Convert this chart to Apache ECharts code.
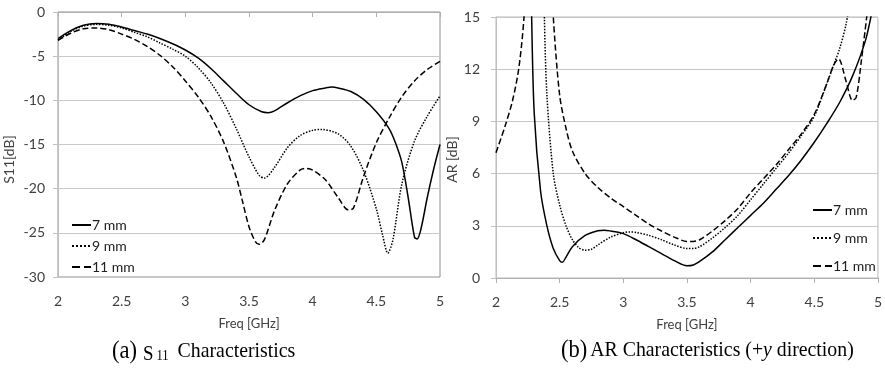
<!DOCTYPE html>
<html>
<head>
<meta charset="utf-8">
<script src="https://cdn.jsdelivr.net/npm/echarts@6/dist/echarts.min.js"></script>
<style>
  html, body { margin: 0; padding: 0; background: #fff; }
  #chart { width: 885px; height: 371px; }
</style>
</head>
<body>
<div id="chart"></div>
<script>
// (a) S11 [dB] vs frequency [GHz]
const s11_7mm = [
  [2.0, -3.0], [2.1, -2.1], [2.2, -1.5], [2.3, -1.3], [2.4, -1.4], [2.5, -1.7], [2.6, -2.1],
  [2.7, -2.5], [2.8, -3.0], [2.9, -3.6], [3.0, -4.3], [3.1, -5.2], [3.2, -6.4], [3.3, -7.8],
  [3.4, -9.2], [3.5, -10.5], [3.6, -11.3], [3.65, -11.4], [3.7, -11.2], [3.8, -10.3],
  [3.9, -9.5], [4.0, -8.9], [4.1, -8.6], [4.15, -8.5], [4.2, -8.6], [4.3, -9.0], [4.4, -9.9],
  [4.5, -11.3], [4.6, -13.2], [4.65, -14.8], [4.7, -17.0], [4.75, -21.0], [4.8, -25.5],
  [4.82, -25.7], [4.85, -24.6], [4.9, -21.0], [4.95, -17.8], [5.0, -15.0]
];
const s11_9mm = [
  [2.0, -3.2], [2.1, -2.2], [2.2, -1.6], [2.3, -1.4], [2.4, -1.5], [2.5, -1.8], [2.6, -2.3],
  [2.7, -2.8], [2.8, -3.5], [2.9, -4.2], [3.0, -5.0], [3.1, -6.3], [3.2, -8.0], [3.3, -10.3],
  [3.4, -13.2], [3.5, -16.4], [3.58, -18.5], [3.62, -18.8], [3.7, -17.6], [3.8, -15.4],
  [3.9, -14.0], [4.0, -13.4], [4.07, -13.3], [4.2, -13.8], [4.3, -15.2], [4.4, -18.0],
  [4.5, -22.3], [4.55, -25.3], [4.59, -27.3], [4.63, -25.8], [4.7, -19.5], [4.8, -14.6],
  [4.9, -11.8], [5.0, -9.5]
];
const s11_11mm = [
  [2.0, -3.2], [2.1, -2.4], [2.2, -1.9], [2.3, -1.8], [2.4, -2.0], [2.5, -2.5], [2.6, -3.1],
  [2.7, -3.9], [2.8, -4.9], [2.9, -6.2], [3.0, -7.8], [3.1, -9.6], [3.2, -11.8], [3.3, -14.7],
  [3.4, -18.7], [3.45, -21.5], [3.5, -24.3], [3.55, -26.0], [3.58, -26.3], [3.62, -25.8],
  [3.7, -22.5], [3.8, -19.5], [3.9, -17.9], [3.95, -17.7], [4.0, -17.9], [4.1, -19.0],
  [4.2, -21.0], [4.28, -22.4], [4.32, -22.2], [4.4, -18.6], [4.5, -14.8], [4.6, -12.0],
  [4.7, -9.6], [4.8, -7.8], [4.9, -6.5], [5.0, -5.6]
];

// (b) AR [dB] vs frequency [GHz] (values above 15 are cut off by the axis)
const ar_7mm = [
  [2.265, 22], [2.28, 15], [2.3, 9.5], [2.35, 5.0], [2.4, 3.0], [2.45, 1.7], [2.5, 1.0],
  [2.52, 0.9], [2.55, 1.2], [2.6, 1.8], [2.7, 2.45], [2.8, 2.72], [2.85, 2.75], [2.9, 2.7],
  [3.0, 2.55], [3.1, 2.2], [3.2, 1.8], [3.3, 1.4], [3.4, 1.0], [3.5, 0.7], [3.55, 0.75],
  [3.6, 0.95], [3.7, 1.5], [3.8, 2.2], [3.9, 2.9], [4.0, 3.6], [4.1, 4.3], [4.2, 5.1],
  [4.3, 5.9], [4.4, 6.8], [4.5, 7.8], [4.6, 8.9], [4.7, 10.1], [4.8, 11.6], [4.9, 13.6],
  [4.95, 15.2]
];
const ar_9mm = [
  [2.37, 20], [2.38, 15], [2.4, 10.5], [2.45, 6.0], [2.5, 4.2], [2.55, 3.0], [2.6, 2.2],
  [2.65, 1.75], [2.7, 1.6], [2.75, 1.65], [2.8, 1.9], [2.9, 2.35], [3.0, 2.6], [3.05, 2.65],
  [3.1, 2.62], [3.2, 2.45], [3.3, 2.2], [3.4, 1.9], [3.5, 1.7], [3.55, 1.7], [3.6, 1.8],
  [3.7, 2.3], [3.8, 2.9], [3.9, 3.6], [4.0, 4.5], [4.1, 5.4], [4.2, 6.3], [4.3, 7.2],
  [4.4, 8.2], [4.5, 9.3], [4.6, 11.2], [4.65, 12.2], [4.7, 13.2], [4.75, 14.6], [4.78, 16.0]
];
const ar_11mm = [
  [2.0, 7.2], [2.07, 8.7], [2.13, 10.2], [2.18, 12.1], [2.22, 15.0], [2.235, 18],
  [2.435, 18], [2.45, 15], [2.5, 10.5], [2.55, 8.6], [2.6, 7.3], [2.7, 6.0], [2.8, 5.2],
  [2.9, 4.6], [3.0, 4.1], [3.1, 3.6], [3.2, 3.1], [3.3, 2.7], [3.4, 2.35], [3.5, 2.1],
  [3.55, 2.1], [3.6, 2.2], [3.7, 2.7], [3.8, 3.3], [3.9, 4.0], [4.0, 4.9], [4.1, 5.7],
  [4.2, 6.5], [4.3, 7.4], [4.4, 8.3], [4.5, 9.4], [4.6, 11.2], [4.65, 12.2], [4.69, 12.6],
  [4.75, 11.3], [4.8, 10.2], [4.83, 10.4], [4.87, 12.5], [4.92, 15.5]
];

const legendNames = ['7 mm', '9 mm', '11 mm'];
const lineTypes = ['solid', 'dotted', 'dashed'];

const font = 'Lato, "Open Sans", sans-serif';
const serif = '"Liberation Serif", "DejaVu Serif", serif';
const axisText = { color: '#404040', fontSize: 14, fontFamily: font };

function xAxisFor(gridIndex) {
  return {
    type: 'value', gridIndex, min: 2, max: 5, interval: 0.5,
    name: 'Freq [GHz]', nameLocation: 'middle', nameGap: 40,
    nameTextStyle: { color: '#404040', fontSize: 13, fontFamily: font },
    axisLine: { lineStyle: { color: '#b0b0b0' } },
    axisTick: { show: true, length: 5, lineStyle: { color: '#b0b0b0' } },
    axisLabel: Object.assign({ margin: 17 }, axisText),
    splitLine: { show: false }
  };
}

function yAxisFor(gridIndex, name, min, max, interval, labelMargin, nameGap, shift) {
  return {
    type: 'value', gridIndex, min, max, interval,
    name, nameLocation: 'middle', nameGap,
    nameTextStyle: { color: '#404040', fontSize: 14, fontFamily: font, padding: [0, shift, 0, 0] },
    axisLine: { show: true, lineStyle: { color: '#c0c0c0' } },
    axisTick: { show: true, length: 5, lineStyle: { color: '#c0c0c0' } },
    axisLabel: Object.assign({ margin: labelMargin }, axisText),
    splitLine: { lineStyle: { color: '#c8c8c8' } }
  };
}

function seriesFor(data, i, axisIndex) {
  return {
    name: legendNames[i], type: 'line', data: data[i],
    xAxisIndex: axisIndex, yAxisIndex: axisIndex,
    smooth: 0.3, symbol: 'none', clip: true,
    lineStyle: { color: '#000', width: 1.5, type: lineTypes[i] },
    itemStyle: { color: '#000' }
  };
}

function legendAt(left, top, gap) {
  return {
    data: legendNames, orient: 'vertical', left, top,
    itemWidth: 19, itemHeight: 10, itemGap: gap,
    itemStyle: { opacity: 0 },
    textStyle: { color: '#202020', fontSize: 14, fontFamily: font, padding: [0, 0, 0, -4] }
  };
}

function caption(x, text, rich) {
  return {
    type: 'text', x, y: 338, scaleX: 0.9,
    style: { text, rich, fill: '#000' }
  };
}

const s11Data = [s11_7mm, s11_9mm, s11_11mm];
const arData = [ar_7mm, ar_9mm, ar_11mm];

const chart = echarts.init(document.getElementById('chart'));
chart.setOption({
  animation: false,
  grid: [
    { left: 58, right: 445, top: 12, bottom: 94, show: true, borderColor: '#909090', borderWidth: 1 },
    { left: 496, right: 7, top: 17, bottom: 93, show: true, borderColor: '#b8b8b8', borderWidth: 1 }
  ],
  xAxis: [xAxisFor(0), xAxisFor(1)],
  yAxis: [
    yAxisFor(0, 'S11[dB]', -30, 0, 5, 13, 42, 30),
    yAxisFor(1, 'AR [dB]', 0, 15, 3, 16, 37, 24)
  ],
  legend: [legendAt(66, 213, 7), legendAt(807, 198, 14)],
  graphic: [
    caption(112, '{p|(a)}  {s|S} {n|11}   {t|Characteristics}', {
      p: { fontFamily: serif, fontSize: 25 },
      s: { fontFamily: serif, fontSize: 21, padding: [6, 0, 0, 0] },
      n: { fontFamily: serif, fontSize: 14, padding: [9, 0, 0, 0] },
      t: { fontFamily: serif, fontSize: 22 }
    }),
    caption(561, '{p|(b)} {t|AR Characteristics (+}{i|y}{t| direction)}', {
      p: { fontFamily: serif, fontSize: 25 },
      t: { fontFamily: serif, fontSize: 22 },
      i: { fontFamily: serif, fontSize: 22, fontStyle: 'italic' }
    })
  ],
  series: [
    seriesFor(s11Data, 0, 0), seriesFor(s11Data, 1, 0), seriesFor(s11Data, 2, 0),
    seriesFor(arData, 0, 1), seriesFor(arData, 1, 1), seriesFor(arData, 2, 1)
  ]
});
</script>
</body>
</html>
